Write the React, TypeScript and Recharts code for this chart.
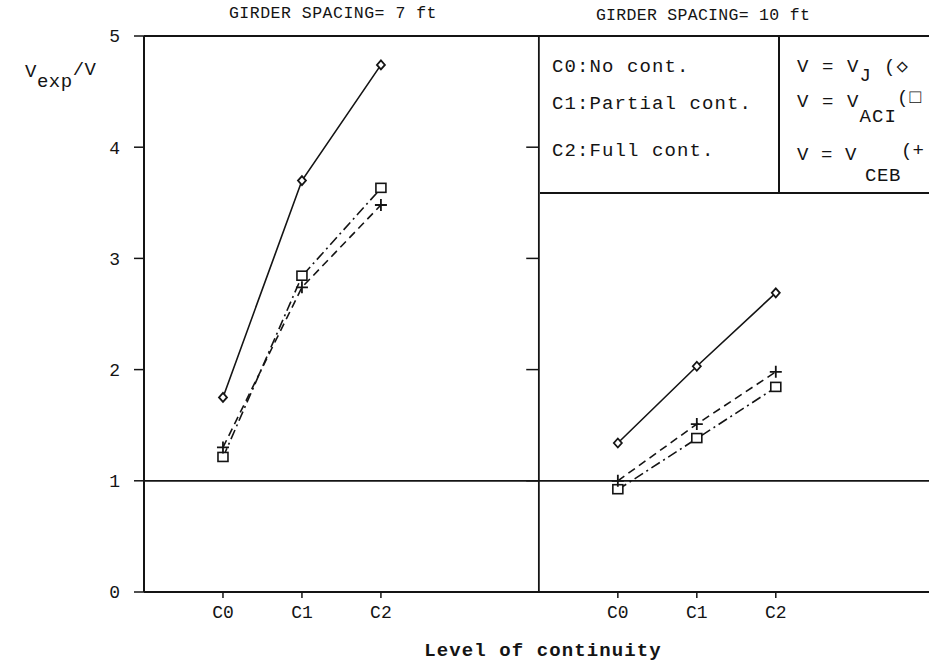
import { LineChart, Line, XAxis, YAxis, ReferenceLine } from 'recharts';

const categories = ['C0', 'C1', 'C2'];
const yTicks = [0, 1, 2, 3, 4, 5];
const panelTicks = [1, 2, 3, 6, 7, 8];

// girder spacing 7 ft
const vj7 = [1.75, 3.7, 4.74];
const aci7 = [1.21, 2.84, 3.63];
const ceb7 = [1.3, 2.74, 3.48];

// girder spacing 10 ft
const vj10 = [1.34, 2.03, 2.69];
const aci10 = [0.92, 1.38, 1.84];
const ceb10 = [1.0, 1.51, 1.98];

const toPoints = (vals: number[], start: number) =>
	vals.map((v, i) => ({ x: start + i, y: v }));

const ink = '#141414';
const mono = '"Liberation Mono", "DejaVu Sans Mono", monospace';

const Diamond = (props: any) => {
	const { cx, cy } = props;
	if (cx == null || cy == null) return null;
	return (
		<path
			key={`d-${cx}-${cy}`}
			d={`M${cx},${cy - 4.5}L${cx + 4},${cy}L${cx},${cy + 4.5}L${cx - 4},${cy}Z`}
			fill='#fff'
			stroke={ink}
			strokeWidth={1.8}
		/>
	);
};

const Square = (props: any) => {
	const { cx, cy } = props;
	if (cx == null || cy == null) return null;
	return (
		<rect
			key={`s-${cx}-${cy}`}
			x={cx - 5}
			y={cy - 5}
			width={10}
			height={9}
			fill='#fff'
			stroke={ink}
			strokeWidth={1.6}
		/>
	);
};

const Plus = (props: any) => {
	const { cx, cy } = props;
	if (cx == null || cy == null) return null;
	return (
		<path
			key={`p-${cx}-${cy}`}
			d={`M${cx - 6},${cy}H${cx + 6}M${cx},${cy - 6}V${cy + 6}`}
			stroke={ink}
			strokeWidth={1.8}
			fill='none'
		/>
	);
};

const tickStyle = { fill: ink, fontFamily: mono, fontSize: 18 };
const text = (extra: React.CSSProperties): React.CSSProperties => ({
	position: 'absolute',
	fontFamily: mono,
	color: ink,
	lineHeight: 1,
	whiteSpace: 'nowrap',
	...extra,
});

export default function App() {
	return (
		<div
			style={{
				position: 'absolute',
				left: 0,
				top: 0,
				width: 929,
				height: 666,
				overflow: 'hidden',
				background: '#fff',
			}}
		>
			<LineChart
				width={929}
				height={666}
				margin={{ top: 36, right: 0, bottom: 34, left: 0 }}
			>
				<XAxis
					type='number'
					dataKey='x'
					domain={[0, 9.94]}
					ticks={panelTicks}
					tickFormatter={(v: number) => categories[(v - 1) % 5]}
					height={40}
					tickSize={6}
					tickMargin={7}
					tick={tickStyle}
					axisLine={{ stroke: ink, strokeWidth: 2 }}
					tickLine={{ stroke: ink, strokeWidth: 1.5 }}
					allowDataOverflow
				/>
				<YAxis
					type='number'
					domain={[0, 5]}
					ticks={yTicks}
					width={144}
					tickSize={10}
					tickMargin={14}
					tick={tickStyle}
					axisLine={{ stroke: ink, strokeWidth: 2 }}
					tickLine={{ stroke: ink, strokeWidth: 1.5 }}
				/>
				<ReferenceLine y={5} stroke={ink} strokeWidth={2} />
				<ReferenceLine y={1} stroke={ink} strokeWidth={1.8} />
				<ReferenceLine x={5} stroke={ink} strokeWidth={1.8} />
				{yTicks
					.filter((t) => t > 0 && t < 5)
					.map((t) => (
						<ReferenceLine
							key={`rt-${t}`}
							segment={[
								{ x: 4.84, y: t },
								{ x: 5, y: t },
							]}
							stroke={ink}
							strokeWidth={1.5}
							ifOverflow='visible'
						/>
					))}
				<Line
					data={toPoints(vj7, 1)}
					dataKey='y'
					stroke={ink}
					strokeWidth={1.6}
					dot={Diamond}
					activeDot={false}
					isAnimationActive={false}
				/>
				<Line
					data={toPoints(aci7, 1)}
					dataKey='y'
					stroke={ink}
					strokeWidth={1.6}
					strokeDasharray='10 4 2 4'
					dot={Square}
					activeDot={false}
					isAnimationActive={false}
				/>
				<Line
					data={toPoints(ceb7, 1)}
					dataKey='y'
					stroke={ink}
					strokeWidth={1.6}
					strokeDasharray='8 5'
					dot={Plus}
					activeDot={false}
					isAnimationActive={false}
				/>
				<Line
					data={toPoints(vj10, 6)}
					dataKey='y'
					stroke={ink}
					strokeWidth={1.6}
					dot={Diamond}
					activeDot={false}
					isAnimationActive={false}
				/>
				<Line
					data={toPoints(aci10, 6)}
					dataKey='y'
					stroke={ink}
					strokeWidth={1.6}
					strokeDasharray='10 4 2 4'
					dot={Square}
					activeDot={false}
					isAnimationActive={false}
				/>
				<Line
					data={toPoints(ceb10, 6)}
					dataKey='y'
					stroke={ink}
					strokeWidth={1.6}
					strokeDasharray='8 5'
					dot={Plus}
					activeDot={false}
					isAnimationActive={false}
				/>
			</LineChart>

			<div style={text({ left: 133, width: 400, top: 6, textAlign: 'center', fontSize: 16.5, letterSpacing: 0.5 })}>
				GIRDER SPACING= 7 ft
			</div>
			<div style={text({ left: 503, width: 400, top: 8, textAlign: 'center', fontSize: 16.5, letterSpacing: 0.3 })}>
				GIRDER SPACING= 10 ft
			</div>

			<div
				style={{
					position: 'absolute',
					left: 540,
					top: 36,
					width: 400,
					height: 156,
					borderBottom: `2px solid ${ink}`,
				}}
			/>
			<div
				style={{
					position: 'absolute',
					left: 778,
					top: 36,
					width: 2,
					height: 157,
					background: ink,
				}}
			/>

			<div style={text({ left: 552, top: 58, fontSize: 19, letterSpacing: 1.1 })}>C0:No cont.</div>
			<div style={text({ left: 552, top: 95, fontSize: 19, letterSpacing: 1.1 })}>C1:Partial cont.</div>
			<div style={text({ left: 552, top: 142, fontSize: 19, letterSpacing: 1.1 })}>C2:Full cont.</div>

			<div style={text({ left: 797, top: 58, fontSize: 19, letterSpacing: 1.1 })}>
				V = V<span style={{ position: 'relative', top: 9 }}>J</span>
				<span style={{ marginLeft: 12 }}>(◇</span>
			</div>
			<div style={text({ left: 797, top: 93, fontSize: 19, letterSpacing: 1.1 })}>
				V = V<span style={{ position: 'relative', top: 15 }}>ACI</span>
				<span style={{ position: 'relative', top: -4 }}>(□</span>
			</div>
			<div style={text({ left: 797, top: 146, fontSize: 19, letterSpacing: 0.6 })}>
				V = V<span style={{ position: 'relative', top: 21, marginLeft: 8 }}>CEB</span>
				<span style={{ position: 'relative', top: -4, letterSpacing: 0 }}>(+</span>
			</div>

			<div style={text({ left: 25, top: 63, fontSize: 19, letterSpacing: 0.5 })}>
				V<span style={{ position: 'relative', top: 10 }}>exp</span>
				<span style={{ position: 'relative', top: -2 }}>/V</span>
			</div>

			<div
				style={text({
					left: 343,
					width: 400,
					top: 642,
					textAlign: 'center',
					fontSize: 19,
					letterSpacing: 1.1,
					fontWeight: 'bold',
				})}
			>
				Level of continuity
			</div>
		</div>
	);
}
